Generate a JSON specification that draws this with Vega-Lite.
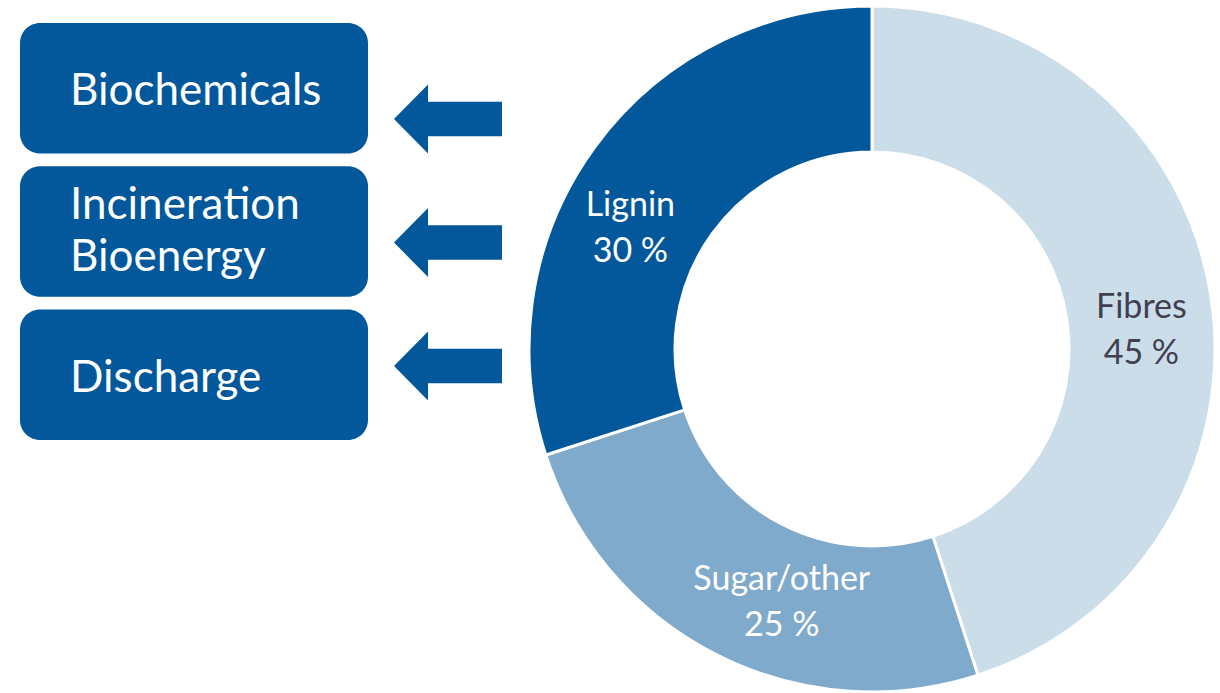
{
  "$schema": "https://vega.github.io/schema/vega-lite/v6.json",
  "background": "white",
  "bounds": "flush",
  "padding": {"left": 20, "top": 0, "right": 0, "bottom": 0},
  "spacing": 0,
  "config": {"view": {"stroke": null}, "font": "Lato"},
  "datasets": {
    "uses": [
      {"use": "Biochemicals"},
      {"use": "Incineration\nBioenergy"},
      {"use": "Discharge"}
    ],
    "parts": [
      {"part": "Fibres", "value": 45, "label": "Fibres\n45 %"},
      {"part": "Sugar/other", "value": 25, "label": "Sugar/other\n25 %"},
      {"part": "Lignin", "value": 30, "label": "Lignin\n30 %"}
    ]
  },
  "hconcat": [
    {
      "width": 348,
      "height": 686,
      "data": {"name": "uses"},
      "encoding": {
        "y": {
          "field": "use",
          "type": "nominal",
          "sort": null,
          "axis": null,
          "scale": {"range": [17, 434], "paddingInner": 0.09, "paddingOuter": 0}
        }
      },
      "layer": [
        {"mark": {"type": "rect", "color": "#02589A", "cornerRadius": 20}},
        {
          "transform": [{"filter": "indexof(datum.use, '\\n') < 0"}],
          "mark": {
            "type": "text",
            "color": "white",
            "fontSize": 44,
            "align": "left",
            "dx": -124,
            "dy": 4,
            "baseline": "middle"
          },
          "encoding": {"text": {"field": "use"}}
        },
        {
          "transform": [{"filter": "indexof(datum.use, '\\n') >= 0"}],
          "mark": {
            "type": "text",
            "color": "white",
            "fontSize": 44,
            "align": "left",
            "dx": -124,
            "dy": -26,
            "baseline": "middle",
            "lineBreak": "\n",
            "lineHeight": 52
          },
          "encoding": {"text": {"field": "use"}}
        }
      ]
    },
    {
      "width": 160,
      "height": 686,
      "data": {"name": "uses"},
      "mark": {
        "type": "point",
        "filled": true,
        "opacity": 1,
        "color": "#02589A",
        "size": 11664,
        "shape": "M-1,0L-0.37,-0.64L-0.37,-0.32L1,-0.32L1,0.32L-0.37,0.32L-0.37,0.64Z"
      },
      "encoding": {
        "y": {
          "field": "use",
          "type": "nominal",
          "sort": null,
          "axis": null,
          "scale": {"range": [113, 360], "padding": 0}
        }
      }
    },
    {
      "width": 688,
      "height": 686,
      "data": {"name": "parts"},
      "resolve": {"scale": {"theta": "independent"}},
      "layer": [
        {
          "mark": {
            "type": "arc",
            "outerRadius": 343,
            "innerRadius": 197,
            "stroke": "white",
            "strokeWidth": 3
          },
          "encoding": {
            "theta": {
              "field": "value",
              "type": "quantitative",
              "stack": true,
              "scale": {"range": [2.82743, -3.45575]}
            },
            "color": {
              "field": "part",
              "type": "nominal",
              "legend": null,
              "scale": {
                "domain": ["Fibres", "Sugar/other", "Lignin"],
                "range": ["#CCDDEA", "#80AACB", "#02589A"]
              }
            }
          }
        },
        {
          "mark": {
            "type": "text",
            "radius": 270,
            "fontSize": 34,
            "align": "center",
            "baseline": "middle",
            "dy": -23,
            "lineBreak": "\n",
            "lineHeight": 46
          },
          "encoding": {
            "theta": {
              "field": "value",
              "type": "quantitative",
              "stack": true,
              "scale": {"type": "pow", "exponent": 0.8, "range": [3.6957, -3.5334]}
            },
            "detail": {"field": "part", "type": "nominal"},
            "text": {"field": "label"},
            "color": {
              "condition": {"test": "datum.part === 'Fibres'", "value": "#404050"},
              "value": "white"
            }
          }
        }
      ]
    }
  ]
}
